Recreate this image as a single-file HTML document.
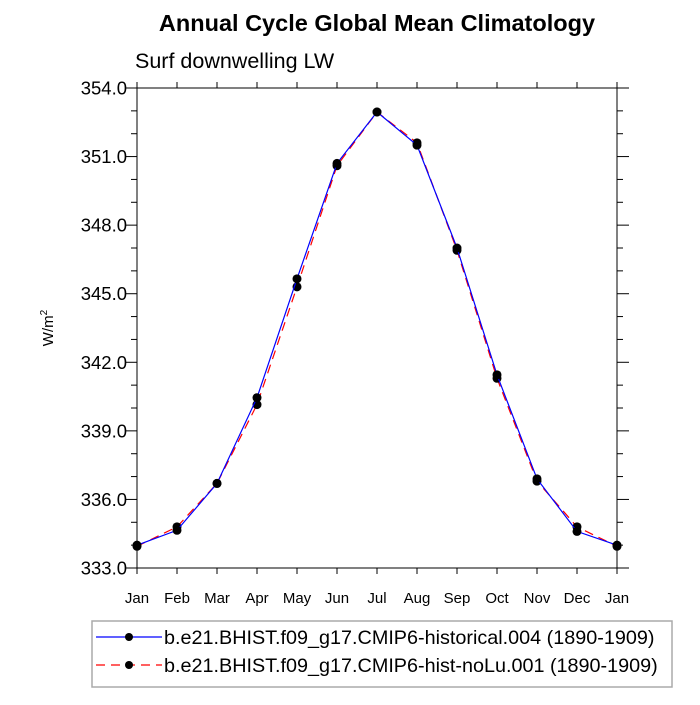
<!DOCTYPE html>
<html><head><meta charset="utf-8"><style>
body{margin:0;background:#fff;}
svg text{font-family:"Liberation Sans",Arial,sans-serif;}
</style></head><body>
<svg id="c" width="700" height="700" xmlns="http://www.w3.org/2000/svg">
<text x="377" y="31" text-anchor="middle" font-size="23.5" font-weight="bold">Annual Cycle Global Mean Climatology</text>
<text x="135" y="68" font-size="21.5">Surf downwelling LW</text>
<text transform="translate(53,328) rotate(-90)" text-anchor="middle" font-size="15">W/m<tspan dy="-6" font-size="10">2</tspan></text>
<g id="ax"></g>
<g id="plot"></g>
<g>
<rect x="92" y="621" width="580" height="66" fill="#fff" stroke="#aaa" stroke-width="1.5"/>
<g>
<line x1="96" y1="637" x2="162" y2="637" stroke="#0000ff" stroke-width="1.2"/>
<circle cx="129" cy="637" r="4" fill="#000"/>
<text x="164" y="644" font-size="19.8">b.e21.BHIST.f09_g17.CMIP6-historical.004 (1890-1909)</text>
</g>
<g>
<line x1="96" y1="665" x2="162" y2="665" stroke="#ff0000" stroke-width="1.2" stroke-dasharray="9,6"/>
<circle cx="129" cy="665" r="4" fill="#000"/>
<text x="164" y="672" font-size="19.8">b.e21.BHIST.f09_g17.CMIP6-hist-noLu.001 (1890-1909)</text>
</g>
</g>
</svg>
<script>
const months=["Jan","Feb","Mar","Apr","May","Jun","Jul","Aug","Sep","Oct","Nov","Dec","Jan"];
const historical=[334.0,334.65,336.7,340.45,345.65,350.7,352.95,351.5,347.0,341.45,336.9,334.6,334.0];
const histNoLu=[333.95,334.8,336.7,340.15,345.3,350.6,352.95,351.6,346.9,341.3,336.8,334.8,333.95];
const yTicks=[333.0,336.0,339.0,342.0,345.0,348.0,351.0,354.0];
const NS="http://www.w3.org/2000/svg";
const L=137,R=617,T=88,B=568,ymin=333,ymax=354;
const xs=i=>L+i*(R-L)/(months.length-1);
const ys=v=>B-(v-ymin)/(ymax-ymin)*(B-T);
function mk(t,a,p){const e=document.createElementNS(NS,t);for(const k in a)e.setAttribute(k,a[k]);p.appendChild(e);return e;}
const ax=document.getElementById('ax'),plot=document.getElementById('plot');
const frame=mk('rect',{x:L,y:T,width:R-L,height:B-T,fill:'none',stroke:'#000','stroke-width':1},ax);


for(let v=ymin;v<=ymax+0.01;v+=1){const y=ys(v),maj=Math.abs((v-ymin)%3)<0.01,len=maj?12:6;
mk('line',{x1:L-len,y1:y,x2:L,y2:y,stroke:'#000'},ax);mk('line',{x1:R,y1:y,x2:R+len,y2:y,stroke:'#000'},ax);}
yTicks.forEach(v=>{const t=mk('text',{x:127,y:ys(v)+6.5,'text-anchor':'end','font-size':18.5},ax);t.textContent=v.toFixed(1);

});
months.forEach((m,i)=>{const x=xs(i);mk('line',{x1:x,y1:B,x2:x,y2:B+6,stroke:'#000'},ax);mk('line',{x1:x,y1:T-6,x2:x,y2:T,stroke:'#000'},ax);
const t=mk('text',{x:x,y:B+35,'text-anchor':'middle','font-size':15},ax);t.textContent=m;

});
function series(d,col,dash,name){const g=mk('g',{},plot);


const a={points:d.map((v,i)=>xs(i)+','+ys(v)).join(' '),fill:'none',stroke:col,'stroke-width':1.2};if(dash)a['stroke-dasharray']=dash;mk('polyline',a,g);
d.forEach((v,i)=>{const c=mk('circle',{cx:xs(i),cy:ys(v),r:4.5,fill:'#000'},g);

});}
series(histNoLu,'#ff0000','9,6','series-hist-nolu');
series(historical,'#0000ff',null,'series-historical');
</script>
</body></html>
